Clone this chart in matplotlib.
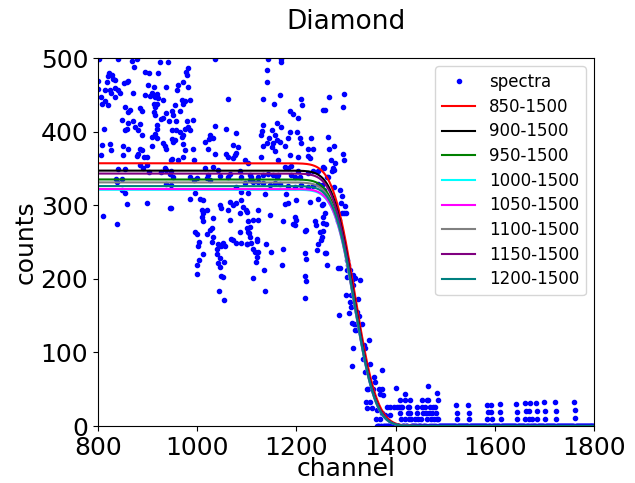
from math import erfc

import numpy as np
import matplotlib
matplotlib.use('Agg')
import matplotlib.pyplot as plt

# spectra, split by channel region
ch_a = [802, 840, 878, 868, 925, 942, 873, 895, 902, 822, 828, 820, 831, 834, 922, 801, 818, 858, 853, 861,
        900, 912, 938, 800, 814, 824, 834, 841, 826, 844, 871, 895, 908, 918, 915, 922, 905, 807, 814, 821,
        809, 834, 932, 912, 915, 918, 854, 865, 861, 885, 888, 912, 914, 938, 949, 848, 861, 871, 885, 918,
        943, 932, 928, 813, 854, 858, 875, 918, 915, 908, 918, 888, 881, 950, 949, 809, 824, 826, 851, 861,
        885, 888, 932, 935, 938, 908, 881, 893, 898, 878, 807, 851, 949, 885, 891, 898, 935, 938, 840, 854,
        902, 928, 945, 836, 838, 849, 938, 947, 848, 854, 858, 898, 945, 811, 838]
ct_a = [499, 498, 499, 496, 494, 494, 488, 481, 479, 479, 477, 475, 472, 470, 479, 469, 467, 468, 466, 469,
        463, 461, 460, 458, 457, 457, 459, 457, 452, 452, 453, 450, 452, 451, 447, 445, 448, 447, 441, 436,
        438, 447, 443, 438, 434, 438, 434, 429, 427, 432, 428, 427, 423, 425, 428, 416, 412, 414, 410, 409,
        414, 419, 417, 403, 402, 404, 406, 403, 397, 393, 391, 395, 402, 402, 390, 382, 383, 375, 380, 377,
        377, 375, 384, 380, 377, 380, 370, 365, 366, 367, 368, 368, 363, 355, 351, 355, 351, 348, 349, 349,
        345, 345, 343, 336, 331, 336, 329, 327, 320, 317, 302, 303, 296, 285, 274]

ch_b = [1036, 982, 977, 979, 972, 962, 982, 960, 969, 975, 972, 985, 955, 965, 952, 992, 979, 958, 1063, 958,
        965, 975, 982, 985, 972, 969, 955, 952, 1059, 1079, 1036, 1026, 1024, 1016, 1032, 972, 992, 975, 1022, 1073,
        1083, 1079, 1076, 1058, 1063, 1073, 1036, 948, 962, 971, 993, 1016, 1032, 1042, 1096, 1103, 1086, 1089, 1022, 1019,
        1026, 1046, 1063, 1066, 999, 993, 985, 948, 952, 1106, 1096, 1079, 1089, 995, 985, 1005, 1012, 1046, 1049, 1066,
        1073, 1079, 1089, 1093, 1063, 1086, 1100, 948, 1009, 1012, 1019, 1009, 1012, 1032, 1029, 1026, 1066, 1106, 995, 999,
        1019, 1032, 1069, 1073, 1086, 1103, 1106, 1004, 1029, 1002, 1042, 1053, 1049, 1056, 1039, 1089, 1078, 1101, 1011, 1039,
        1046, 1055, 1042, 1046, 1004, 1000, 999, 1049, 1053, 1044, 1054]
ct_b = [498, 486, 481, 477, 468, 463, 461, 457, 443, 441, 438, 443, 436, 428, 423, 416, 414, 414, 444, 402,
        400, 404, 406, 402, 395, 393, 389, 386, 403, 398, 407, 395, 390, 386, 391, 383, 377, 375, 377, 382,
        379, 371, 368, 370, 365, 364, 369, 362, 362, 365, 361, 350, 352, 348, 362, 358, 346, 339, 341, 337,
        334, 340, 339, 343, 337, 334, 339, 346, 339, 334, 330, 325, 318, 317, 309, 308, 307, 300, 296, 305,
        300, 303, 307, 298, 293, 289, 291, 296, 294, 289, 294, 284, 278, 282, 269, 266, 280, 271, 263, 261,
        261, 257, 254, 253, 263, 263, 257, 250, 250, 245, 247, 249, 244, 245, 240, 249, 249, 247, 234, 234,
        228, 223, 221, 216, 226, 219, 207, 204, 203, 183, 171]

ch_c = [1143, 1169, 1169, 1140, 1140, 1133, 1155, 1167, 1210, 1212, 1254, 1187, 1193, 1204, 1160, 1133, 1131, 1128, 1169, 1150,
        1156, 1144, 1160, 1153, 1167, 1150, 1140, 1133, 1187, 1183, 1202, 1207, 1210, 1230, 1224, 1234, 1177, 1156, 1187, 1204,
        1224, 1227, 1128, 1163, 1254, 1177, 1183, 1190, 1204, 1224, 1234, 1243, 1106, 1109, 1123, 1133, 1143, 1153, 1160, 1163,
        1190, 1197, 1207, 1113, 1123, 1133, 1146, 1156, 1167, 1183, 1197, 1210, 1224, 1234, 1244, 1103, 1136, 1180, 1227, 1244,
        1200, 1177, 1183, 1251, 1099, 1123, 1113, 1123, 1103, 1101, 1105, 1146, 1173, 1197, 1200, 1193, 1197, 1237, 1240, 1254,
        1254, 1217, 1220, 1247, 1120, 1101, 1109, 1120, 1113, 1116, 1122, 1120, 1118, 1138, 1148, 1173, 1244, 1242, 1217, 1220,
        1257, 1135, 1171, 1113, 1136, 1217, 1220, 1218]
ct_c = [498, 499, 494, 484, 468, 444, 438, 450, 444, 436, 429, 428, 424, 418, 412, 409, 401, 395, 406, 402,
        395, 391, 389, 384, 386, 379, 384, 380, 400, 391, 399, 391, 384, 391, 377, 376, 380, 373, 368, 366,
        367, 364, 365, 361, 352, 352, 350, 353, 347, 344, 347, 346, 341, 339, 339, 341, 343, 341, 339, 341,
        341, 339, 339, 332, 332, 330, 327, 330, 329, 326, 325, 327, 325, 326, 329, 316, 315, 315, 305, 308,
        307, 302, 303, 300, 294, 294, 280, 280, 278, 269, 262, 287, 278, 284, 280, 275, 273, 278, 273, 284,
        276, 265, 266, 264, 254, 247, 248, 252, 241, 237, 237, 230, 223, 247, 236, 241, 247, 239, 235, 227,
        235, 212, 219, 201, 184, 204, 197, 174]

ch_d = [1296, 1295, 1265, 1258, 1263, 1265, 1276, 1294, 1296, 1270, 1256, 1278, 1274, 1276, 1272, 1261, 1263, 1275, 1288, 1292,
        1290, 1298, 1300, 1296, 1292, 1251, 1256, 1253, 1258, 1282, 1285, 1283, 1260, 1253, 1251, 1249, 1260, 1261, 1283, 1287,
        1302, 1305, 1302, 1308, 1302, 1315, 1319, 1329, 1312, 1315, 1301, 1311, 1325, 1308, 1310, 1285, 1307, 1323, 1327, 1312,
        1316, 1322, 1332, 1319, 1321, 1347, 1314, 1336, 1339, 1313, 1335, 1349, 1339, 1357, 1359, 1372, 1342, 1345, 1355, 1366,
        1373, 1341, 1349, 1343, 1352, 1369, 1374, 1401, 1362, 1372, 1382, 1389, 1396, 1406, 1379, 1388, 1361, 1368]
ct_d = [451, 434, 447, 430, 392, 377, 380, 370, 362, 362, 351, 357, 350, 348, 347, 339, 338, 325, 321, 312,
        303, 299, 290, 289, 289, 327, 320, 302, 289, 287, 280, 279, 274, 265, 257, 253, 235, 219, 215, 215,
        226, 219, 212, 212, 203, 205, 201, 198, 198, 192, 178, 178, 173, 169, 162, 151, 154, 155, 149, 140,
        139, 139, 139, 131, 130, 117, 106, 110, 106, 81, 91, 84, 74, 67, 60, 76, 50, 50, 50, 50,
        50, 33, 33, 25, 25, 44, 42, 52, 22, 17, 26, 26, 26, 26, 15, 15, 9, 9]

# non-zero counts in the tail
ch_e = [1418, 1409, 1419, 1429, 1402, 1410, 1412, 1426, 1428, 1408, 1425, 1430, 1411, 1420, 1427, 1431, 1443, 1453, 1444, 1439,
        1446, 1452, 1465, 1454, 1463, 1466, 1459, 1470, 1476, 1480, 1456, 1462, 1467, 1473, 1481, 1464, 1471, 1477, 1483, 1486,
        1484, 1485, 1522, 1523, 1524, 1547, 1548, 1549, 1584, 1593, 1587, 1592, 1585, 1594, 1610, 1611, 1612, 1643, 1644, 1645,
        1661, 1671, 1662, 1670, 1660, 1668, 1675, 1684, 1685, 1686, 1700, 1701, 1702, 1722, 1723, 1724, 1760, 1761, 1762]
ct_e = [44, 35, 35, 35, 26, 26, 26, 26, 26, 18, 18, 18, 9, 9, 9, 9, 26, 26, 18, 9,
        9, 9, 54, 35, 35, 35, 26, 26, 26, 26, 18, 18, 18, 18, 18, 9, 9, 9, 9, 9,
        45, 36, 28, 18, 9, 28, 18, 9, 29, 29, 19, 19, 9, 9, 30, 19, 9, 30, 19, 9,
        31, 31, 20, 20, 9, 9, 9, 31, 20, 9, 32, 20, 9, 32, 21, 10, 33, 22, 11]

# every other channel from 1361 on reads zero
zero_from, zero_to = 1361, 1800

# fitted step curves: fit range, colour, plateau, centre, width
fit_labels = ['850-1500', '900-1500', '950-1500', '1000-1500', '1050-1500', '1100-1500', '1150-1500', '1200-1500']
fit_colors = ['red', 'black', 'green', 'cyan', 'magenta', 'gray', 'purple', 'teal']
fit_amp = [357, 347, 335, 321, 322, 331, 343, 326]
fit_mu = [1318, 1317, 1317, 1318, 1318, 1317, 1317, 1318]
fit_sigma = [35, 34, 34, 33, 33, 34, 34, 33]

used = set(ch_d) | set(ch_e)
zero_ch = [c for c in range(zero_from, zero_to + 1) if c not in used]

channel = np.array(ch_a + ch_b + ch_c + ch_d + ch_e + zero_ch)
counts = np.array(ct_a + ct_b + ct_c + ct_d + ct_e + [0] * len(zero_ch))


def step(x, amp, mu, sigma):
    f = np.vectorize(lambda v: 0.5 * amp * erfc((v - mu) / (np.sqrt(2) * sigma)))
    return f(x)


fig = plt.figure(figsize=(6.35, 4.83), dpi=100)
ax = fig.add_axes([0.1543, 0.1180, 0.7811, 0.7619])

ax.plot(channel, counts, 'b.', label='spectra')
xs = np.linspace(800, 1800, 1001)
for lab, col, a, m, s in zip(fit_labels, fit_colors, fit_amp, fit_mu, fit_sigma):
    ax.plot(xs, step(xs, a, m, s), color=col, label=lab)

ax.set_xlim(800, 1800)
ax.set_ylim(0, 500)
ax.set_xticks([800, 1000, 1200, 1400, 1600, 1800])
ax.set_yticks([0, 100, 200, 300, 400, 500])
ax.tick_params(labelsize=18)
ax.set_xlabel('channel', fontsize=18, labelpad=-2)
ax.set_ylabel('counts', fontsize=18, labelpad=2)
ax.set_title('Diamond', fontsize=19, pad=21)
ax.legend(loc='upper right', fontsize=12, labelspacing=0.4)

fig.savefig('out.png', dpi=100)
